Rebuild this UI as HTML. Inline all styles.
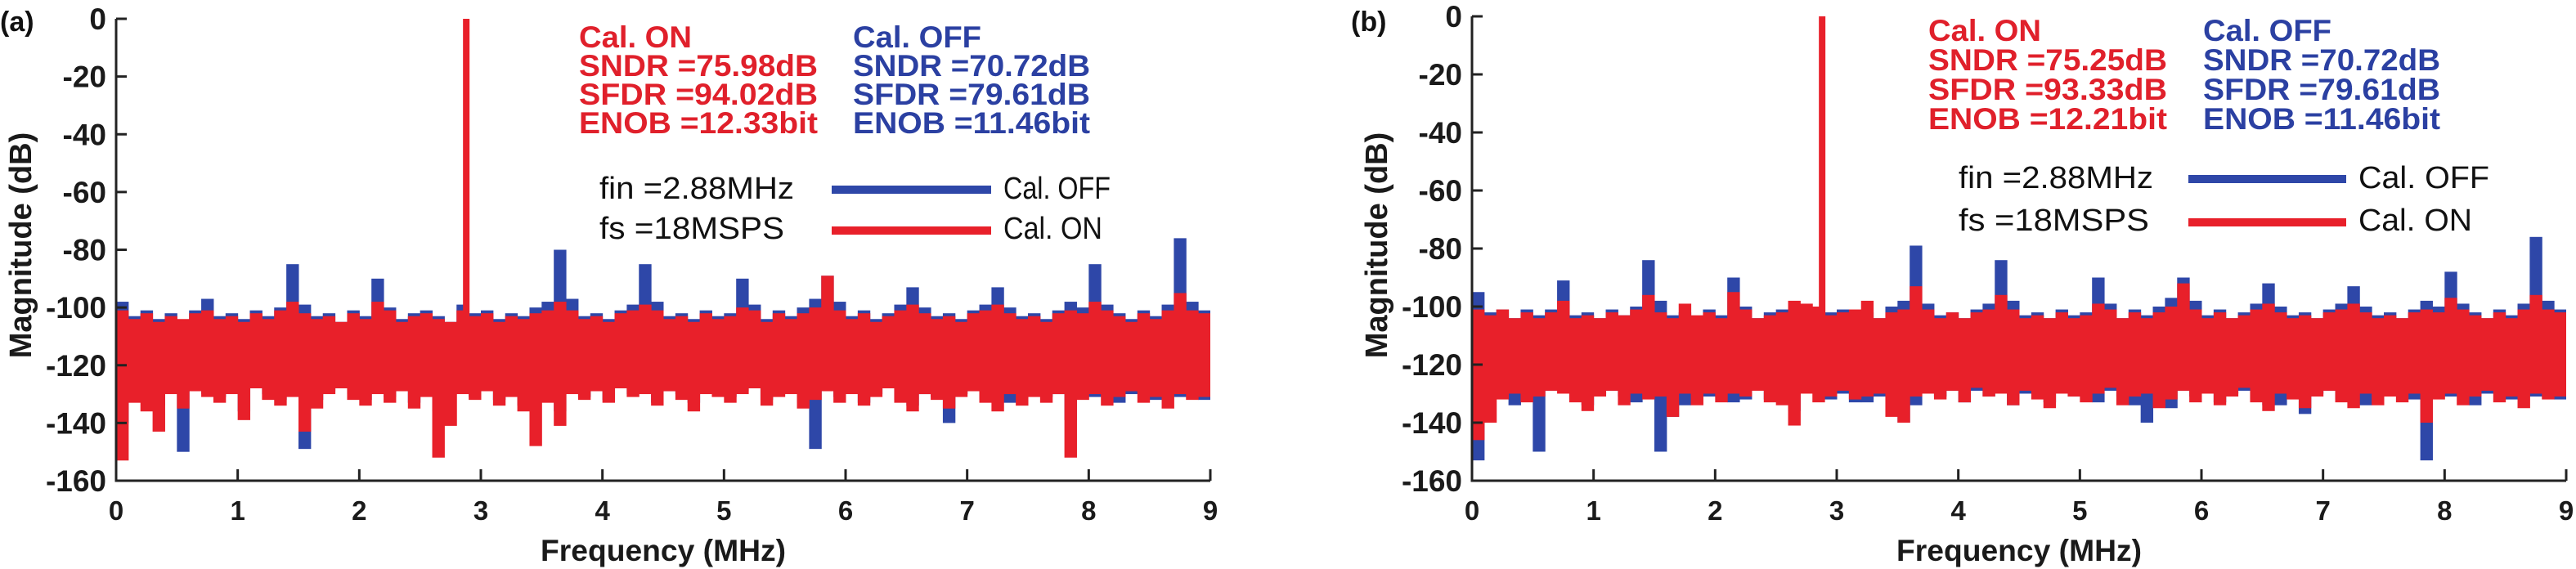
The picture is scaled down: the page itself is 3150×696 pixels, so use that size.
<!DOCTYPE html>
<html><head><meta charset="utf-8"><style>
html,body{margin:0;padding:0;background:#fff;}
svg{display:block;}
text{font-family:"Liberation Sans",sans-serif;}
</style></head><body>
<svg id="fig" width="3150" height="696" viewBox="0 0 3150 696" xmlns="http://www.w3.org/2000/svg"></svg>
<script>
// ---------- data (dB per 0.1 MHz bin, 0..9 MHz) ----------
const freqBins = [0,0.1,0.2,0.3,0.4,0.5,0.6,0.7,0.8,0.9,1,1.1,1.2,1.3,1.4,1.5,1.6,1.7,1.8,1.9,2,2.1,2.2,2.3,2.4,2.5,2.6,2.7,2.8,2.9,3,3.1,3.2,3.3,3.4,3.5,3.6,3.7,3.8,3.9,4,4.1,4.2,4.3,4.4,4.5,4.6,4.7,4.8,4.9,5,5.1,5.2,5.3,5.4,5.5,5.6,5.7,5.8,5.9,6,6.1,6.2,6.3,6.4,6.5,6.6,6.7,6.8,6.9,7,7.1,7.2,7.3,7.4,7.5,7.6,7.7,7.8,7.9,8,8.1,8.2,8.3,8.4,8.5,8.6,8.7,8.8,8.9];
const xTicks = [0,1,2,3,4,5,6,7,8,9];
const yTicks = [0,-20,-40,-60,-80,-100,-120,-140,-160];
const fundamentalFreq = 2.88;
const fundamentalDb = 0;

// panel (a)
const aBlueHi = [-98,-103,-101,-104,-102,-105,-101,-97,-103,-102, -104,-101,-103,-100,-85,-99,-103,-102,-105,-101, -103,-90,-100,-104,-102,-101,-103,-105,-99,-102, -101,-104,-102,-103,-100,-98,-80,-97,-103,-102, -104,-101,-99,-85,-98,-103,-102,-104,-101,-103, -102,-90,-99,-104,-101,-103,-100,-97,-89,-98, -103,-101,-104,-102,-99,-93,-100,-103,-102,-104, -101,-99,-93,-100,-103,-102,-104,-101,-98,-100, -85,-99,-102,-104,-101,-103,-99,-76,-98,-101];
const aBlueLo = [-140,-130,-131,-134,-129,-150,-128,-130,-131,-129, -136,-128,-130,-132,-130,-149,-132,-129,-128,-130, -132,-129,-131,-128,-133,-130,-136,-130,-129,-131, -128,-132,-130,-134,-131,-132,-136,-129,-131,-128, -132,-128,-130,-129,-133,-129,-130,-133,-129,-130, -131,-129,-128,-132,-130,-129,-133,-149,-128,-131, -129,-133,-130,-128,-132,-134,-130,-131,-140,-130, -128,-132,-131,-133,-132,-129,-131,-130,-139,-130, -131,-129,-133,-130,-130,-132,-129,-131,-130,-132];
const aRedHi = [-101,-104,-102,-105,-103,-104,-102,-101,-104,-103, -105,-102,-104,-101,-98,-102,-104,-103,-105,-102, -104,-98,-101,-105,-103,-102,-104,-105,-101,-103, -102,-105,-103,-104,-102,-101,-98,-101,-104,-103, -105,-102,-101,-99,-101,-104,-103,-105,-102,-104, -103,-100,-101,-105,-102,-104,-102,-100,-89,-101, -104,-102,-105,-103,-101,-99,-102,-104,-103,-105, -102,-101,-99,-102,-104,-103,-105,-102,-101,-102, -98,-101,-103,-105,-102,-104,-101,-95,-101,-102];
const aRedLo = [-153,-133,-136,-143,-130,-135,-129,-131,-133,-130, -139,-128,-132,-134,-131,-143,-135,-130,-128,-132, -134,-130,-133,-129,-135,-131,-152,-141,-130,-132, -129,-134,-131,-136,-148,-133,-141,-130,-132,-129, -133,-128,-131,-130,-134,-129,-132,-136,-130,-131, -133,-130,-128,-134,-131,-130,-135,-132,-129,-133, -130,-134,-131,-128,-133,-136,-130,-132,-135,-131, -129,-133,-136,-130,-134,-131,-133,-130,-152,-132, -130,-134,-131,-129,-133,-131,-135,-130,-132,-131];

// panel (b)
const bBlueHi = [-95,-102,-101,-104,-101,-103,-101,-91,-103,-102, -104,-101,-103,-100,-84,-98,-103,-102,-104,-101, -103,-90,-100,-104,-102,-101,-103,-104,-100,-102, -101,-103,-102,-104,-100,-98,-79,-99,-103,-102, -104,-101,-99,-84,-98,-103,-102,-104,-101,-103, -102,-90,-99,-104,-101,-103,-100,-97,-90,-98, -103,-101,-104,-102,-99,-92,-100,-103,-102,-104, -101,-99,-93,-100,-103,-102,-104,-101,-98,-100, -88,-99,-102,-104,-101,-103,-99,-76,-98,-101];
const bBlueLo = [-153,-130,-131,-134,-131,-150,-129,-129,-132,-134, -130,-129,-131,-133,-131,-150,-138,-134,-129,-131, -131,-133,-132,-128,-132,-132,-136,-129,-130,-132, -130,-133,-133,-131,-130,-140,-134,-129,-131,-129, -133,-129,-131,-129,-134,-130,-130,-133,-129,-131, -130,-133,-129,-131,-134,-140,-133,-135,-129,-131, -130,-133,-130,-129,-132,-134,-134,-130,-137,-130, -129,-132,-130,-134,-133,-129,-131,-132,-153,-130, -131,-129,-134,-130,-130,-132,-129,-131,-130,-132];
const bRedHi = [-101,-103,-101,-104,-102,-104,-102,-98,-104,-103, -104,-102,-103,-101,-96,-102,-104,-99,-103,-102, -104,-95,-101,-104,-103,-102,-98,-99,-100,-103, -102,-101,-98,-104,-102,-101,-93,-101,-104,-102, -104,-102,-101,-96,-101,-104,-103,-104,-102,-104, -103,-99,-101,-104,-102,-104,-102,-100,-92,-101, -104,-102,-104,-103,-101,-99,-102,-104,-103,-104, -102,-101,-99,-102,-104,-103,-104,-102,-101,-102, -97,-101,-103,-104,-102,-104,-101,-96,-101,-102];
const bRedLo = [-146,-140,-132,-130,-133,-131,-129,-130,-133,-136, -131,-129,-134,-130,-132,-131,-138,-130,-134,-130, -133,-130,-131,-129,-133,-134,-141,-130,-133,-131, -129,-132,-131,-130,-138,-140,-131,-130,-132,-129, -133,-128,-131,-130,-134,-129,-132,-135,-130,-131, -133,-130,-128,-134,-131,-130,-135,-132,-129,-133, -130,-134,-131,-128,-133,-136,-130,-132,-135,-131, -129,-133,-135,-130,-134,-131,-133,-130,-140,-132, -130,-134,-131,-129,-133,-131,-135,-130,-132,-131];

const RED = '#e8202a', BLUE = '#2e47a8', TXTRED = '#e0202b', TXTBLUE = '#2b40a2';
const NS = 'http://www.w3.org/2000/svg';
const svg = document.getElementById('fig');
function mk(tag, attrs, parent) {
  const e = document.createElementNS(NS, tag);
  for (const k in attrs) e.setAttribute(k, attrs[k]);
  (parent || svg).appendChild(e);
  return e;
}
function txt(str, attrs, parent) { const t = mk('text', attrs, parent); t.textContent = str; return t; }

function drawPanel(P, blueHi, blueLo, redHi, redLo, labels) {
  const g = mk('g', {});
  
  
  const xs = f => P.x0 + (f - 0) / 9 * (P.x1 - P.x0);
  const ys = d => P.y0 + (0 - d) / 160 * (P.y1 - P.y0);
  const binW = xs(0.1) - xs(0);
  const clipId = 'clip-' + P.id;
  const cp = mk('clipPath', { id: clipId }, g);
  mk('rect', { x: P.x0, y: P.y0 - 2, width: P.x1 - P.x0, height: P.y1 - P.y0 + 2 }, cp);
  const plot = mk('g', { 'clip-path': 'url(#' + clipId + ')' }, g);
  
  
  const blueG = mk('g', { fill: BLUE }, plot);
  
  
  freqBins.forEach((f, i) => {
    const r = mk('rect', { x: xs(f), y: ys(blueHi[i]), width: binW + 0.5, height: ys(blueLo[i]) - ys(blueHi[i]) }, blueG);
    
    
  });
  const redG = mk('g', { fill: RED }, plot);
  
  
  freqBins.forEach((f, i) => {
    const r = mk('rect', { x: xs(f), y: ys(redHi[i]), width: binW + 0.5, height: ys(redLo[i]) - ys(redHi[i]) }, redG);
    
    
  });
  const fund = mk('rect', { x: xs(fundamentalFreq) - 4, y: ys(fundamentalDb), width: 8, height: ys(-110) - ys(fundamentalDb), fill: RED }, plot);
  
  

  // axes
  const ax = mk('path', { d: `M${P.x0},${P.y0} V${P.y1} H${P.x1}`, stroke: '#222', 'stroke-width': 3, fill: 'none' }, g);
  
  
  yTicks.forEach(v => {
    const y = ys(v);
    const tk = mk('line', { x1: P.x0, x2: P.x0 + 13, y1: y, y2: y, stroke: '#222', 'stroke-width': 3 }, g);
    
    
    const t = txt(String(v), { x: P.x0 - 12, y: y + 13, 'text-anchor': 'end', 'font-size': 37, 'font-weight': 'bold', fill: '#1a1a1a' }, g);
    
    
  });
  xTicks.forEach(v => {
    const x = xs(v);
    if (v > 0) {
      const tk = mk('line', { x1: x, x2: x, y1: P.y1, y2: P.y1 - 14, stroke: '#222', 'stroke-width': 3 }, g);
      
      
    }
    const t = txt(String(v), { x: x, y: 636, 'text-anchor': 'middle', 'font-size': 33, 'font-weight': 'bold', fill: '#1a1a1a' }, g);
    
    
  });
  const xt = txt('Frequency (MHz)', { x: (P.x0 + P.x1) / 2, y: 686, 'text-anchor': 'middle', 'font-size': 37, 'font-weight': 'bold', fill: '#1a1a1a', textLength: 300, lengthAdjust: 'spacingAndGlyphs' }, g);
  
  
  const yt = txt('Magnitude (dB)', { x: 0, y: 0, 'text-anchor': 'middle', 'font-size': 38, 'font-weight': 'bold', fill: '#1a1a1a', transform: `translate(${P.x0 - 104},300) rotate(-90)` }, g);
  
  
  const pl = txt(P.label, { x: P.labelX, y: 38, 'font-size': 34, 'font-weight': 'bold', fill: '#111' }, g);
  
  

  // metrics text
  const L = labels;
  const redLines = ['Cal. ON', 'SNDR =' + L.sndrOn, 'SFDR =' + L.sfdrOn, 'ENOB =' + L.enobOn];
  const blueLines = ['Cal. OFF', 'SNDR =70.72dB', 'SFDR =79.61dB', 'ENOB =11.46bit'];
  redLines.forEach((s, i) => {
    const a = { x: P.tx1, y: P.tb + i * P.tl, 'font-size': 37, 'font-weight': 'bold', fill: TXTRED };
    a.textLength = i === 0 ? 138 : 292; a.lengthAdjust = 'spacingAndGlyphs';
    const t = txt(s, a, g);
    
    
  });
  blueLines.forEach((s, i) => {
    const a = { x: P.tx2, y: P.tb + i * P.tl, 'font-size': 37, 'font-weight': 'bold', fill: TXTBLUE };
    a.textLength = i === 0 ? 157 : 290; a.lengthAdjust = 'spacingAndGlyphs';
    const t = txt(s, a, g);
    
    
  });
  const fin = txt('fin =2.88MHz', { x: P.fx, y: P.fb1, 'font-size': 38, fill: '#111', textLength: 238, lengthAdjust: 'spacingAndGlyphs' }, g);
  
  
  const fs = txt(P.fsText, { x: P.fx, y: P.fb2, 'font-size': 38, fill: '#111', textLength: P.fsW, lengthAdjust: 'spacingAndGlyphs' }, g);
  
  
  // legend
  const lg = mk('g', {}, g);
  
  
  const l1 = mk('line', { x1: P.lx1, x2: P.lx2, y1: P.fb1 - 11, y2: P.fb1 - 11, stroke: BLUE, 'stroke-width': 10 }, lg);
  
  
  const l2 = mk('line', { x1: P.lx1, x2: P.lx2, y1: P.fb2 - 10, y2: P.fb2 - 10, stroke: RED, 'stroke-width': 10 }, lg);
  
  
  const t1 = txt('Cal. OFF', { x: P.lx2 + 15, y: P.fb1, 'font-size': 38, fill: '#111', textLength: P.lw1, lengthAdjust: 'spacingAndGlyphs' }, lg);
  
  
  const t2 = txt('Cal. ON', { x: P.lx2 + 15, y: P.fb2, 'font-size': 38, fill: '#111', textLength: P.lw2, lengthAdjust: 'spacingAndGlyphs' }, lg);
  
  
}

drawPanel({ id: 'panel-a', label: '(a)', labelX: 0, x0: 142, x1: 1480, y0: 23, y1: 588,
  tx1: 708, tx2: 1043, tb: 58, tl: 35, fx: 733, fb1: 243, fb2: 292, fsText: 'fs =18MSPS', fsW: 226,
  lx1: 1017, lx2: 1212, lw1: 131, lw2: 121 },
  aBlueHi, aBlueLo, aRedHi, aRedLo, { sndrOn: '75.98dB', sfdrOn: '94.02dB', enobOn: '12.33bit' });
drawPanel({ id: 'panel-b', label: '(b)', labelX: 1652, x0: 1800, x1: 3138, y0: 20, y1: 588,
  tx1: 2358, tx2: 2694, tb: 50, tl: 36, fx: 2395, fb1: 230, fb2: 282, fsText: 'fs  =18MSPS', fsW: 233,
  lx1: 2676, lx2: 2869, lw1: 160, lw2: 139 },
  bBlueHi, bBlueLo, bRedHi, bRedLo, { sndrOn: '75.25dB', sfdrOn: '93.33dB', enobOn: '12.21bit' });
</script>
</body></html>
